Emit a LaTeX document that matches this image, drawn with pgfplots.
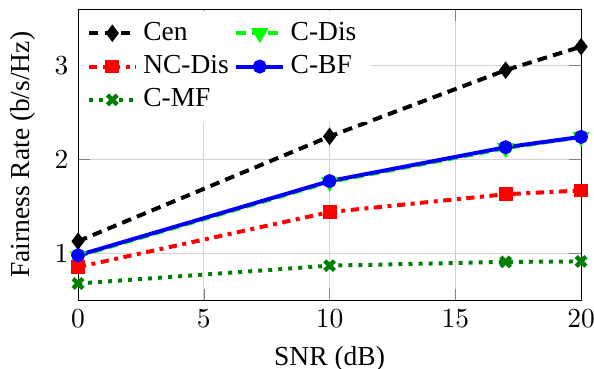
\documentclass[border=0pt]{standalone}
\usepackage{fontspec}
\setmainfont{Liberation Serif}
\usepackage{pgfplots}
\pgfplotsset{compat=1.18}
\begin{document}
\begin{tikzpicture}
\begin{axis}[
  name=ax,
  scale only axis,
  width=183pt, height=106pt,
  xmin=0, xmax=20, ymin=0.5, ymax=3.6,
  xtick={0,5,10,15,20}, ytick={1,2,3},
  grid=major,
  grid style={gray!35, thin},
  xlabel={SNR (dB)},
  ylabel={Fairness Rate (b/s/Hz)},
  legend columns=2,
  legend style={at={(0.0,0.995)}, anchor=north west, draw=none, fill=white, cells={anchor=west}, column sep=0pt},
  legend cell align=left,
  every axis plot/.append style={line width=1.45pt},
  clip=false,
]
\addplot[black, dash pattern=on 3.5pt off 2.3pt, mark=diamond*, mark options={solid, scale=1.0}] coordinates {(0,1.13) (10,2.245) (17,2.95) (20,3.2)};
\addlegendentry{Cen}
\addplot[green, dash pattern=on 3.5pt off 2.3pt, mark=triangle*, mark options={solid, rotate=180, scale=1.1}] coordinates {(0,0.97) (10,1.76) (17,2.12) (20,2.24)};
\addlegendentry{C-Dis}
\addplot[red, dash dot, mark=square*, mark options={solid, scale=0.9}] coordinates {(0,0.855) (10,1.44) (17,1.63) (20,1.67)};
\addlegendentry{NC-Dis}
\addplot[blue, solid, mark=*, mark options={solid, scale=0.9}] coordinates {(0,0.98) (10,1.77) (17,2.13) (20,2.24)};
\addlegendentry{C-BF}
\addplot[green!50!black, dash pattern=on 1.45pt off 2.2pt, mark=x, mark options={solid, line width=1.6pt, scale=1.25}] coordinates {(0,0.68) (10,0.87) (17,0.91) (20,0.915)};
\addlegendentry{C-MF}
\end{axis}
\pgfresetboundingbox
\path[use as bounding box] ([shift={(-28.4pt,-24.9pt)}]ax.south west) rectangle ([shift={(4.7pt,3.3pt)}]ax.north east);
\end{tikzpicture}
\end{document}
